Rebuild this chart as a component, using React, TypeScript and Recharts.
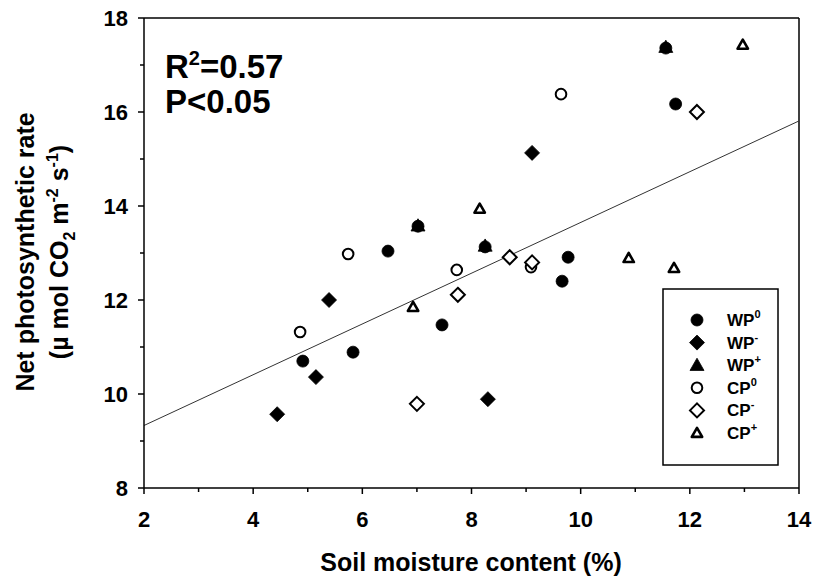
import { ScatterChart, Scatter, XAxis, YAxis, ReferenceLine } from 'recharts';

const FONT = '"Liberation Sans", Arial, sans-serif';

const xTicks = [2, 3, 4, 5, 6, 7, 8, 9, 10, 11, 12, 13, 14];
const yTicks = [8, 9, 10, 11, 12, 13, 14, 15, 16, 17, 18];

// soil moisture (%) vs net photosynthetic rate
const wp0 = [
  { x: 11.56, y: 17.36 }, { x: 11.74, y: 16.17 }, { x: 7.02, y: 13.57 },
  { x: 6.47, y: 13.04 }, { x: 8.25, y: 13.13 }, { x: 9.77, y: 12.91 },
  { x: 9.66, y: 12.4 }, { x: 7.46, y: 11.47 }, { x: 4.91, y: 10.7 },
  { x: 5.83, y: 10.89 },
];
const wpMinus = [
  { x: 9.11, y: 15.13 }, { x: 5.39, y: 12.0 }, { x: 5.15, y: 10.36 },
  { x: 4.44, y: 9.57 }, { x: 8.3, y: 9.89 },
];
const wpPlus = [
  { x: 11.56, y: 17.38 }, { x: 7.02, y: 13.58 }, { x: 8.25, y: 13.15 },
];
const cp0 = [
  { x: 9.64, y: 16.38 }, { x: 5.74, y: 12.98 }, { x: 7.73, y: 12.64 },
  { x: 9.09, y: 12.7 }, { x: 4.86, y: 11.32 },
];
const cpMinus = [
  { x: 12.13, y: 16.0 }, { x: 8.7, y: 12.91 }, { x: 9.11, y: 12.8 },
  { x: 7.75, y: 12.11 }, { x: 7.0, y: 9.79 },
];
const cpPlus = [
  { x: 12.97, y: 17.43 }, { x: 8.15, y: 13.94 }, { x: 6.93, y: 11.85 },
  { x: 10.88, y: 12.89 }, { x: 11.71, y: 12.68 },
];

const fitLine = [{ x: 2, y: 9.33 }, { x: 14, y: 15.81 }];

const series = [
  { name: 'WP', sup: '0', data: wp0, kind: 'circle', filled: true },
  { name: 'WP', sup: '-', data: wpMinus, kind: 'diamond', filled: true },
  { name: 'WP', sup: '+', data: wpPlus, kind: 'triangle', filled: true },
  { name: 'CP', sup: '0', data: cp0, kind: 'circle', filled: false },
  { name: 'CP', sup: '-', data: cpMinus, kind: 'diamond', filled: false },
  { name: 'CP', sup: '+', data: cpPlus, kind: 'triangle', filled: false },
];

function Marker({ cx, cy, kind, filled }: any) {
  const fill = filled ? '#000' : '#fff';
  const sw = filled ? 0.8 : 2;
  if (kind === 'circle') {
    return <circle cx={cx} cy={cy} r={filled ? 6 : 5.3} fill={fill} stroke="#000" strokeWidth={sw} />;
  }
  if (kind === 'diamond') {
    const r = filled ? 7.5 : 7;
    return (
      <polygon
        points={`${cx},${cy - r} ${cx + r},${cy} ${cx},${cy + r} ${cx - r},${cy}`}
        fill={fill}
        stroke="#000"
        strokeWidth={sw}
      />
    );
  }
  const h = filled ? 7 : 5.2;
  return (
    <polygon
      points={`${cx},${cy - h} ${cx + h},${cy + h * 0.75} ${cx - h},${cy + h * 0.75}`}
      fill={fill}
      stroke="#000"
      strokeWidth={filled ? 0.8 : 2.6}
      strokeLinejoin="round"
    />
  );
}

function XTick({ x, y, payload }: any) {
  const major = payload.value % 2 === 0;
  return (
    <g>
      <line x1={x} x2={x} y1={y} y2={y + (major ? 6 : 4)} stroke="#000" strokeWidth={1.5} />
      {major && (
        <text x={x} y={y + 31} textAnchor="middle" dominantBaseline="central" fontFamily={FONT} fontWeight="bold" fontSize={22} fill="#000">
          {payload.value}
        </text>
      )}
    </g>
  );
}

function YTick({ x, y, payload }: any) {
  const major = payload.value % 2 === 0;
  return (
    <g>
      <line x1={x} x2={x - (major ? 6 : 4)} y1={y} y2={y} stroke="#000" strokeWidth={1.5} />
      {major && (
        <text x={x - 16} y={y} textAnchor="end" dominantBaseline="central" fontFamily={FONT} fontWeight="bold" fontSize={22} fill="#000">
          {payload.value}
        </text>
      )}
    </g>
  );
}

const axisLine = { stroke: '#000', strokeWidth: 1.5 };

export default function App() {
  return (
    <div style={{ position: 'absolute', left: 0, top: 0, width: 814, height: 577, background: '#fff' }}>
      <ScatterChart width={814} height={577} margin={{ top: 18, right: 15, bottom: 0, left: 0 }}>
        <XAxis
          type="number"
          dataKey="x"
          domain={[2, 14]}
          ticks={xTicks}
          interval={0}
          height={89}
          tickSize={0}
          tickMargin={0}
          tickLine={false}
          axisLine={axisLine}
          tick={(p: any) => <XTick {...p} />}
          allowDataOverflow
        />
        <YAxis
          type="number"
          dataKey="y"
          domain={[8, 18]}
          ticks={yTicks}
          interval={0}
          width={144}
          tickSize={0}
          tickMargin={0}
          tickLine={false}
          axisLine={axisLine}
          tick={(p: any) => <YTick {...p} />}
          allowDataOverflow
        />
        <ReferenceLine y={18} stroke="#000" strokeWidth={1.5} />
        <ReferenceLine x={14} stroke="#000" strokeWidth={1.5} />
        <ReferenceLine segment={fitLine} stroke="#333" strokeWidth={1} />
        {series.map((s) => (
          <Scatter
            key={s.name + s.sup}
            data={s.data}
            isAnimationActive={false}
            shape={(p: any) => <Marker cx={p.cx} cy={p.cy} kind={s.kind} filled={s.filled} />}
          />
        ))}
      </ScatterChart>

      <svg width={814} height={577} style={{ position: 'absolute', left: 0, top: 0, pointerEvents: 'none' }}>
        <g fontFamily={FONT} fontWeight="bold" fill="#000">
          <text x={165} y={78} fontSize={33}>
            R<tspan dy={-13} fontSize={20}>2</tspan>
            <tspan dy={13}>=0.57</tspan>
          </text>
          <text x={165} y={113} fontSize={33}>P&lt;0.05</text>

          <text x={471} y={571} fontSize={25} textAnchor="middle">Soil moisture content (%)</text>

          <text x={34} y={252} fontSize={25} textAnchor="middle" transform="rotate(-90 34 252)">
            Net photosynthetic rate
          </text>
          <text x={68} y={252} fontSize={25} textAnchor="middle" transform="rotate(-90 68 252)">
            (µ mol CO<tspan dy={7} fontSize={16}>2</tspan>
            <tspan dy={-7}> m</tspan>
            <tspan dy={-10} fontSize={16}>-2</tspan>
            <tspan dy={10}> s</tspan>
            <tspan dy={-10} fontSize={16}>-1</tspan>
            <tspan dy={10}>)</tspan>
          </text>

          <rect x={663} y={289} width={115} height={176} fill="#fff" stroke="#000" strokeWidth={1.5} />
          {series.map((s, i) => {
            const cy = 320 + i * 22.6;
            return (
              <g key={'lg' + i}>
                <Marker cx={697} cy={cy} kind={s.kind} filled={s.filled} />
                <text x={727} y={cy + 6} fontSize={17}>
                  {s.name}
                  <tspan dy={-8} fontSize={11}>{s.sup}</tspan>
                </text>
              </g>
            );
          })}
        </g>
      </svg>
    </div>
  );
}
